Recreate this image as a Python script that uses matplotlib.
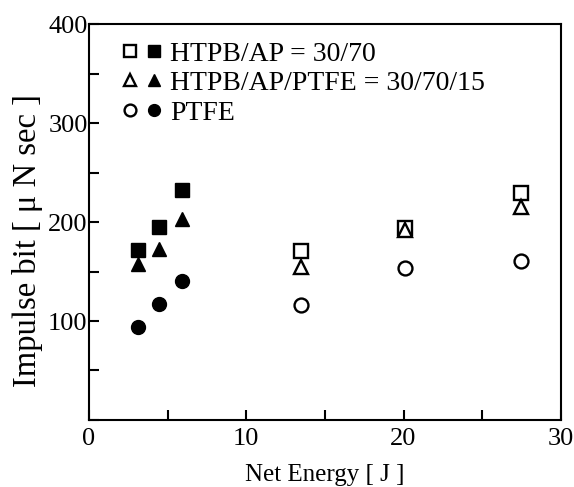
import matplotlib
matplotlib.use("Agg")
import matplotlib.pyplot as plt
from matplotlib.legend_handler import HandlerTuple
from matplotlib.ticker import MultipleLocator

plt.rcParams['font.family'] = ['Liberation Serif', 'DejaVu Serif']

# datos leidos del grafico
# energia neta [J] e impulse bit [uN s]
x_lleno = [3.1, 4.45, 5.9]
ap_lleno = [172, 195, 232]
ptfe_ap_lleno = [158, 173, 203]
ptfe_lleno = [94, 117, 140]

x_abierto = [13.5, 20.1, 27.5]
ap_abierto = [171, 194, 229]
ptfe_ap_abierto = [155, 192, 215]
ptfe_abierto = [116, 154, 161]

etiquetas = ["HTPB/AP = 30/70", "HTPB/AP/PTFE = 30/70/15", "PTFE"]

fig = plt.figure(figsize=(5.74, 4.87), dpi=100)
ax = fig.add_axes([0.155, 0.1376, 0.822, 0.813])

ms = 10
mew = 1.7
sq_o, = ax.plot(x_abierto, ap_abierto, 's', ms=ms, mfc='white', mec='black', mew=mew, ls='none')
tr_o, = ax.plot(x_abierto, ptfe_ap_abierto, '^', ms=ms, mfc='white', mec='black', mew=mew, ls='none')
ci_o, = ax.plot(x_abierto, ptfe_abierto, 'o', ms=ms, mfc='white', mec='black', mew=mew, ls='none')
sq_f, = ax.plot(x_lleno, ap_lleno, 's', ms=ms + 0.5, color='black', ls='none')
tr_f, = ax.plot(x_lleno, ptfe_ap_lleno, '^', ms=ms + 0.5, color='black', ls='none')
ci_f, = ax.plot(x_lleno, ptfe_lleno, 'o', ms=ms, color='black', ls='none')

ax.set_xlim(0, 30)
ax.set_ylim(0, 400)
ax.xaxis.set_major_locator(MultipleLocator(10))
ax.xaxis.set_minor_locator(MultipleLocator(5))
ax.yaxis.set_major_locator(MultipleLocator(100))
ax.yaxis.set_minor_locator(MultipleLocator(50))
ax.set_yticks([100, 200, 300, 400])
ax.tick_params(which='both', direction='in', length=7, width=1.5,
               top=False, right=False, labelsize=19)
ax.tick_params(axis='y', pad=1)
ax.tick_params(axis='x', pad=6)
for s in ax.spines.values():
    s.set_linewidth(1.5)

ax.set_xlabel("Net Energy [ J ]", fontsize=18, labelpad=10)
ax.set_ylabel("Impulse bit [ μ N sec ]", fontsize=23.5)
ax.yaxis.set_label_coords(-0.097, 0.452)

ax.legend([(sq_o, sq_f), (tr_o, tr_f), (ci_o, ci_f)], etiquetas,
          handler_map={tuple: HandlerTuple(ndivide=None, pad=0.25)},
          loc='upper left', bbox_to_anchor=(0.045, 0.985), frameon=False,
          fontsize=20, handlelength=1.5, markerscale=0.85,
          handletextpad=0.25, labelspacing=0.15, borderaxespad=0.0)

fig.savefig("out.png", dpi=100)
